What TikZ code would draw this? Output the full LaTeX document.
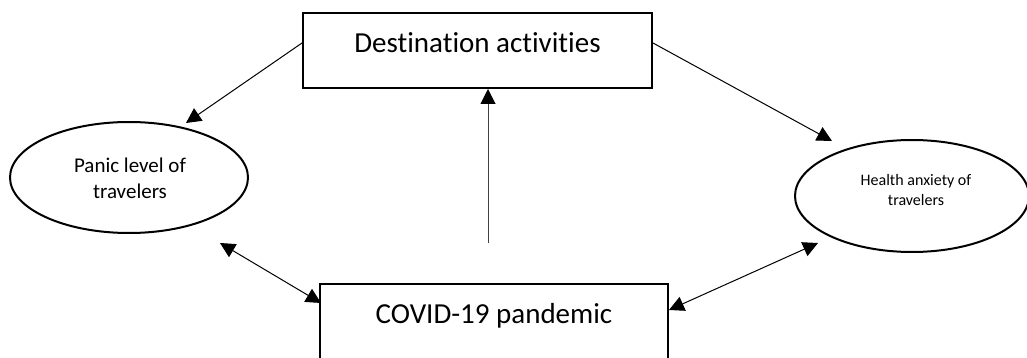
\documentclass[tikz,border=0pt]{standalone}
\usepackage{fontspec}
\setmainfont{Carlito}[Ligatures=NoCommon]
\usetikzlibrary{arrows.meta,shapes.geometric,calc}
\begin{document}
\begin{tikzpicture}[x=1pt,y=-1pt,
  boxstyle/.style={draw, line width=2pt, rectangle, inner sep=0pt},
  ovalstyle/.style={draw, line width=2pt, ellipse, inner sep=0pt},
  tip/.tip={Triangle[length=15pt,width=15pt,color=black]},
  conn/.style={line width=1pt, -tip},
  twoway/.style={line width=1pt, tip-tip},
  lbl/.style={inner sep=0pt, align=center}]
\useasboundingbox (0,0) rectangle (1027,358);
% boxes and ellipses
\node[boxstyle, minimum width=349pt, minimum height=75pt] (dest) at (477.5,50.5) {};
\node[lbl, anchor=base, font=\fontsize{29}{35}\selectfont] (desttext) at (477.5,53) {Destination activities};
\node[boxstyle, minimum width=348pt, minimum height=140pt, anchor=north] (covid) at (494,283) {};
\node[lbl, anchor=base, font=\fontsize{29}{35}\selectfont] (covidtext) at (494,323) {COVID-19 pandemic};
\node[ovalstyle, minimum width=238pt, minimum height=111pt] (panic) at (129,177.5) {};
\node[lbl, font=\fontsize{21}{26}\selectfont] (panictext) at (130,178) {Panic level of\\travelers};
\node[ovalstyle, minimum width=234pt, minimum height=112pt] (health) at (912,196) {};
\node[lbl, font=\fontsize{16}{20}\selectfont] (healthtext) at (916,190) {Health anxiety of\\travelers};
% free ends
\coordinate (panictip) at (186,123);
\coordinate (healthtip) at (832,141);
\coordinate (vtail) at (488,243);
\coordinate (lefttip) at (220,243);
\coordinate (righttip) at (818,243);
% connectors
\draw[conn] ($(dest.west)+(0,-7.5)$) -- (panictip);
\draw[conn] ($(dest.east)+(0,-7.5)$) -- (healthtip);
\draw[conn, draw=black!75] (vtail) -- (vtail |- dest.south);
\draw[twoway] (lefttip) -- ($(covid.north west)+(2,20)$);
\draw[twoway] ($(covid.north east)+(0,27)$) -- (righttip);
\end{tikzpicture}
\end{document}
